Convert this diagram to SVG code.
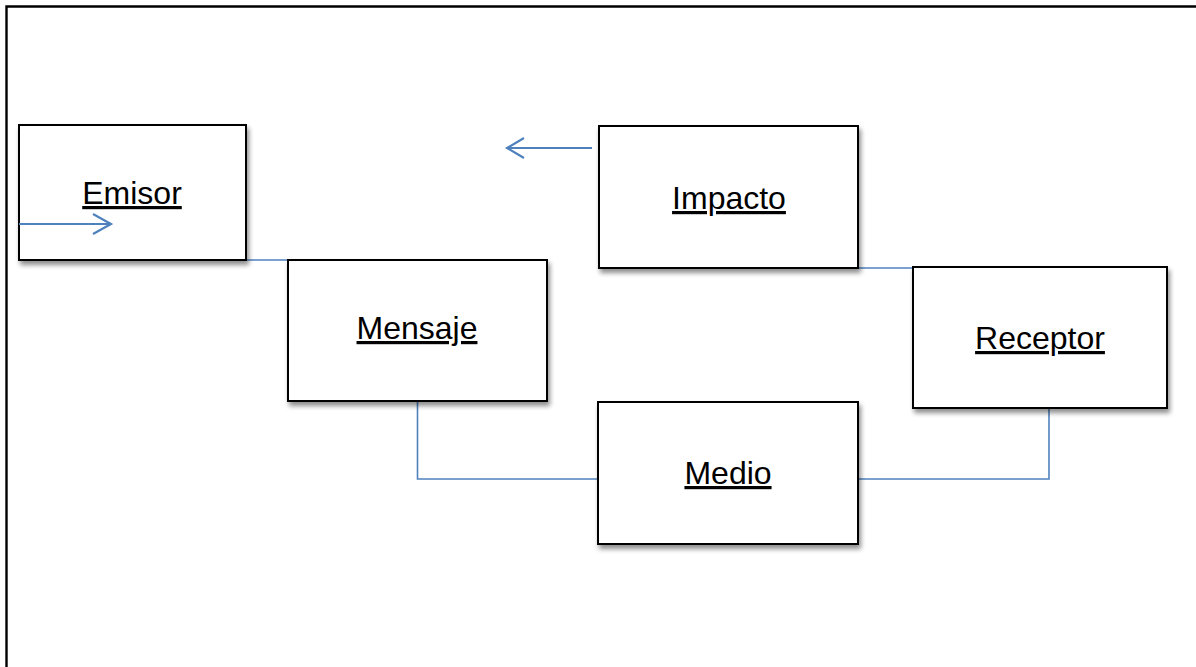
<svg xmlns="http://www.w3.org/2000/svg" width="1196" height="667" viewBox="0 0 1196 667">
<style>
.box{fill:#fff;stroke:#000;stroke-width:2;filter:url(#sh)}
.lbl{font-family:"Liberation Sans",Arial,sans-serif;font-size:32px;fill:#000;text-anchor:middle;text-decoration:underline;text-decoration-thickness:2.6px}
.con{fill:none;stroke:#4F81BD;stroke-width:1.6}
.arr{fill:none;stroke:#4F81BD;stroke-width:2.2}
</style>
<defs>
<filter id="sh" x="-10%" y="-10%" width="125%" height="130%">
<feGaussianBlur in="SourceAlpha" stdDeviation="2.5"/>
<feOffset dx="2" dy="4" result="b"/>
<feComponentTransfer><feFuncA type="linear" slope="0.45"/></feComponentTransfer>
<feMerge><feMergeNode/><feMergeNode in="SourceGraphic"/></feMerge>
</filter>
</defs>
<rect x="0" y="0" width="1196" height="667" fill="#fff"/>
<path d="M6.5,667 V6.5 H1196" fill="none" stroke="#000" stroke-width="2.4"/>
<g id="connectors">
<path class="con" d="M246,260 H288"/>
<path class="con" d="M858,268 H913"/>
<path class="con" d="M417.5,401 V479 H598"/>
<path class="con" d="M858,479 H1049 V408"/>
</g>
<g id="emisor">
<rect class="box" x="19" y="125" width="227" height="135"/>
<text class="lbl" x="132" y="204">Emisor</text>
</g>
<g id="mensaje">
<rect class="box" x="288" y="260" width="259" height="141"/>
<text class="lbl" x="417" y="339">Mensaje</text>
</g>
<g id="impacto">
<rect class="box" x="599" y="126" width="259" height="142"/>
<text class="lbl" x="729" y="209">Impacto</text>
</g>
<g id="receptor">
<rect class="box" x="913" y="267" width="254" height="141"/>
<text class="lbl" x="1040" y="349">Receptor</text>
</g>
<g id="medio">
<rect class="box" x="598" y="402" width="260" height="142"/>
<text class="lbl" x="728" y="484">Medio</text>
</g>
<g id="arrows">
<path class="arr" d="M19,224 H111"/>
<path class="arr" d="M93,214 L111,224 L93,234"/>
<path class="arr" d="M592,148 H507"/>
<path class="arr" d="M524,138 L507,148 L524,158"/>
</g>
</svg>
